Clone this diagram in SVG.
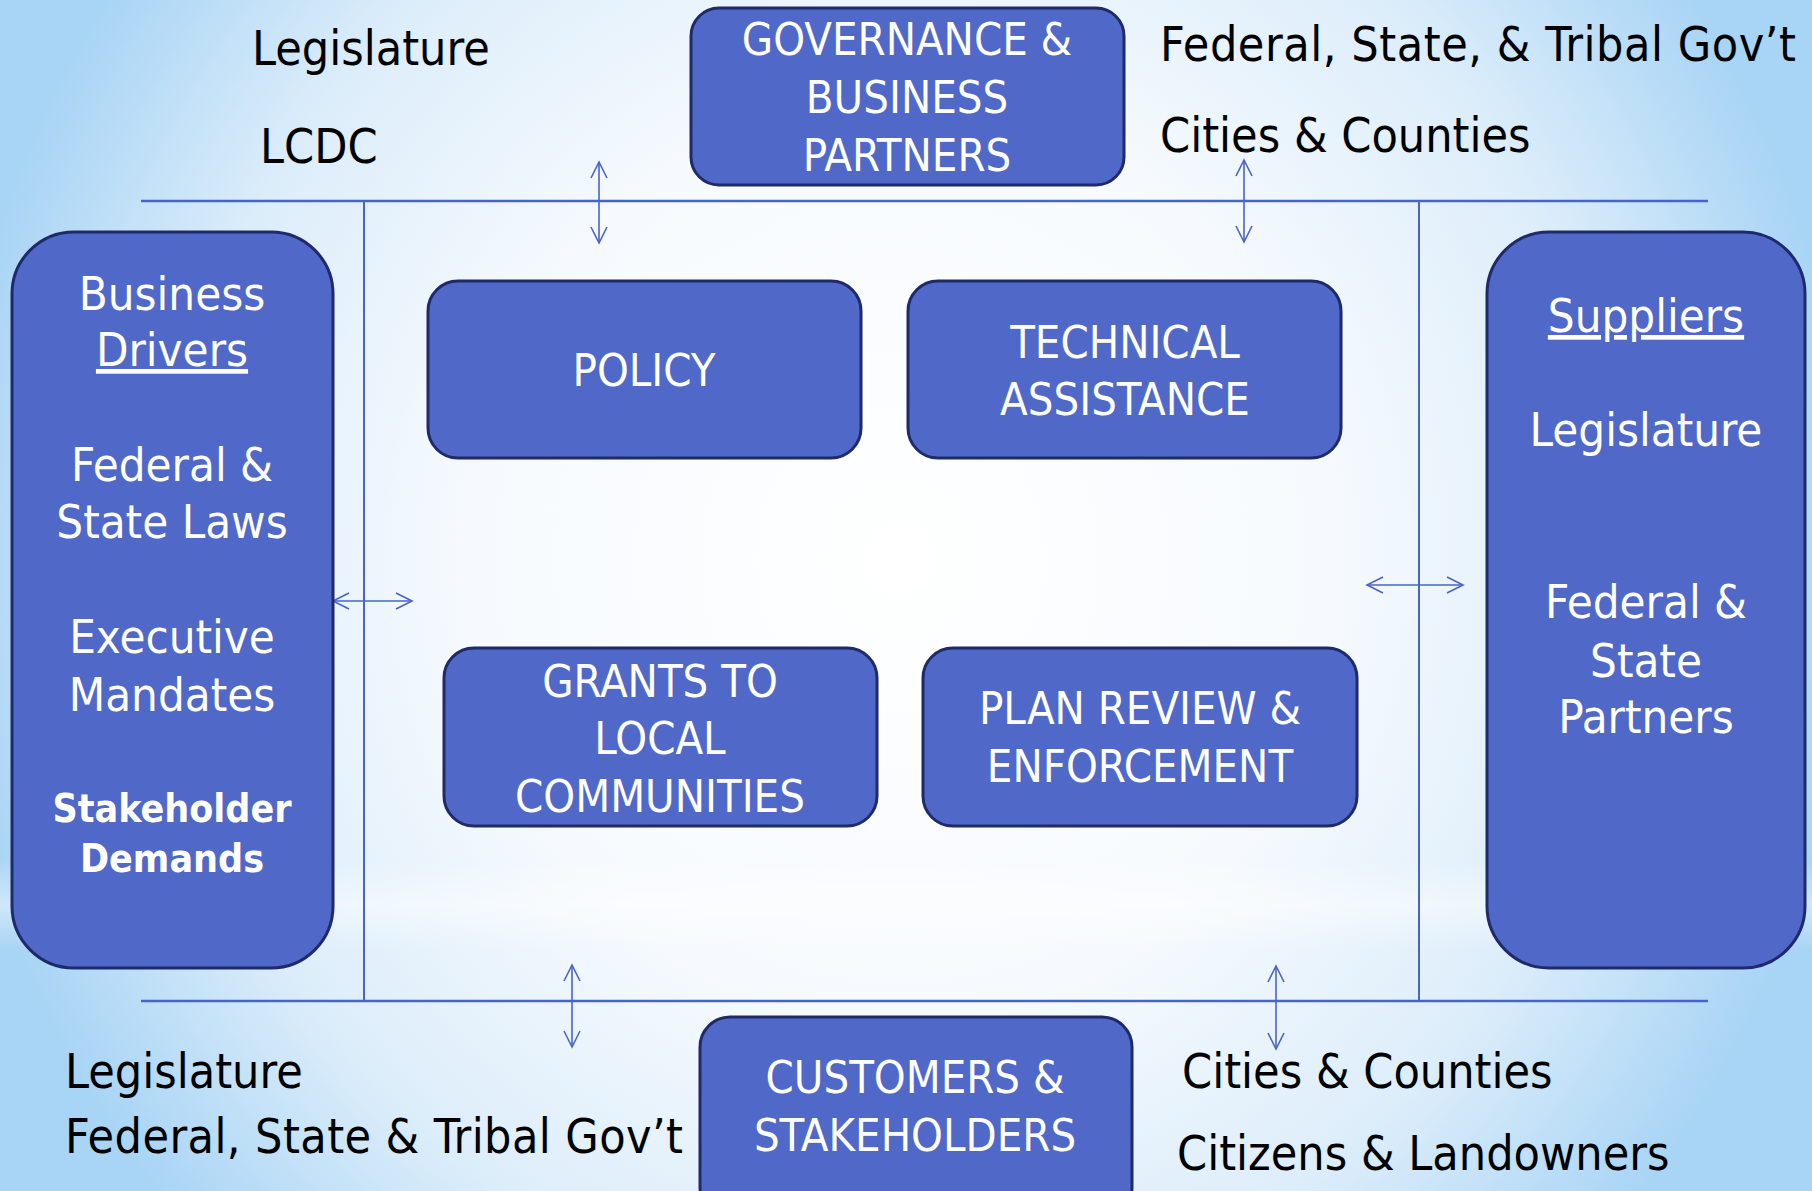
<svg xmlns="http://www.w3.org/2000/svg" width="1812" height="1191" viewBox="0 0 1812 1191">
<defs>
<radialGradient id="bg" cx="900" cy="560" r="960" gradientUnits="userSpaceOnUse" gradientTransform="translate(900 560) scale(1 1.05) translate(-900 -560)">
<stop offset="0" stop-color="#ffffff"/>
<stop offset="0.45" stop-color="#f6fafe"/>
<stop offset="0.75" stop-color="#dcedfa"/>
<stop offset="0.95" stop-color="#b2d9f6"/>
<stop offset="1" stop-color="#a8d4f5"/>
</radialGradient>
<linearGradient id="band" x1="0" y1="0" x2="0" y2="1">
<stop offset="0" stop-color="#ffffff" stop-opacity="0"/>
<stop offset="0.5" stop-color="#ffffff" stop-opacity="0.45"/>
<stop offset="1" stop-color="#ffffff" stop-opacity="0"/>
</linearGradient>
<marker id="ah" viewBox="-18 -10 20 20" refX="0" refY="0" markerWidth="20" markerHeight="20" markerUnits="userSpaceOnUse" orient="auto-start-reverse">
<path d="M-16,-8 L0,0 L-16,8" fill="none" stroke="#4a63c8" stroke-width="1.6"/>
</marker>
</defs>
<style>
.box{fill:#5068c8;stroke:#1f2a6b;stroke-width:3}
.lbl{font-family:"DejaVu Sans Condensed","DejaVu Sans",sans-serif;font-stretch:condensed;font-size:45px;fill:#ffffff;text-anchor:middle}
.side{font-family:"DejaVu Sans Condensed","DejaVu Sans",sans-serif;font-stretch:condensed;font-size:47px;fill:#ffffff;text-anchor:middle}
.sideb{font-family:"DejaVu Sans Condensed","DejaVu Sans",sans-serif;font-stretch:condensed;font-size:39px;font-weight:bold;fill:#ffffff;text-anchor:middle}
.blk{font-family:"DejaVu Sans Condensed","DejaVu Sans",sans-serif;font-stretch:condensed;font-size:48px;fill:#000000}
.ln{stroke:#4a63c8;fill:none}
.ar{stroke:#4a63c8;stroke-width:1.6;fill:none;marker-start:url(#ah);marker-end:url(#ah)}
</style>
<rect x="0" y="0" width="1812" height="1191" fill="url(#bg)"/>
<rect x="0" y="860" width="1812" height="90" fill="url(#band)"/>

<g id="connectors">
<line class="ln" x1="141" y1="201" x2="1708" y2="201" stroke-width="2.5"/>
<line class="ln" x1="141" y1="1001" x2="1708" y2="1001" stroke-width="2.5"/>
<line class="ln" x1="364" y1="201" x2="364" y2="1001" stroke-width="2"/>
<line class="ln" x1="1419" y1="201" x2="1419" y2="1001" stroke-width="2"/>
<line class="ar" x1="599" y1="162" x2="599" y2="243"/>
<line class="ar" x1="1244" y1="160" x2="1244" y2="242"/>
<line class="ar" x1="572" y1="965" x2="572" y2="1047"/>
<line class="ar" x1="1276" y1="966" x2="1276" y2="1049"/>
<line class="ar" x1="333" y1="601" x2="412" y2="601"/>
<line class="ar" x1="1367" y1="585" x2="1463" y2="585"/>
</g>

<g id="labels-top">
<text class="blk" x="252" y="65">Legislature</text>
<text class="blk" x="260" y="163">LCDC</text>
<text class="blk" x="1160" y="61" textLength="636" lengthAdjust="spacing">Federal, State, &amp; Tribal Gov’t</text>
<text class="blk" x="1160" y="152">Cities &amp; Counties</text>
</g>

<g id="labels-bottom">
<text class="blk" x="65" y="1088">Legislature</text>
<text class="blk" x="65" y="1153" textLength="618" lengthAdjust="spacing">Federal, State &amp; Tribal Gov’t</text>
<text class="blk" x="1182" y="1088">Cities &amp; Counties</text>
<text class="blk" x="1177" y="1170">Citizens &amp; Landowners</text>
</g>

<g id="governance">
<rect class="box" x="691" y="8" width="433" height="177" rx="28"/>
<text class="lbl" x="907" y="55">GOVERNANCE &amp;</text>
<text class="lbl" x="907" y="113">BUSINESS</text>
<text class="lbl" x="907" y="171">PARTNERS</text>
</g>

<g id="business-drivers">
<rect class="box" x="12" y="232" width="321" height="736" rx="62"/>
<text class="side" x="172" y="310">Business</text>
<text class="side" x="172" y="366" text-decoration="underline">Drivers</text>
<text class="side" x="172" y="481">Federal &amp;</text>
<text class="side" x="172" y="538">State Laws</text>
<text class="side" x="172" y="653">Executive</text>
<text class="side" x="172" y="711">Mandates</text>
<text class="sideb" x="172" y="822">Stakeholder</text>
<text class="sideb" x="172" y="872">Demands</text>
</g>

<g id="suppliers">
<rect class="box" x="1487" y="232" width="318" height="736" rx="62"/>
<text class="side" x="1646" y="332" text-decoration="underline">Suppliers</text>
<text class="side" x="1646" y="446">Legislature</text>
<text class="side" x="1646" y="618">Federal &amp;</text>
<text class="side" x="1646" y="677">State</text>
<text class="side" x="1646" y="733">Partners</text>
</g>

<g id="policy">
<rect class="box" x="428" y="281" width="433" height="177" rx="30"/>
<text class="lbl" x="644" y="386">POLICY</text>
</g>

<g id="technical-assistance">
<rect class="box" x="908" y="281" width="433" height="177" rx="30"/>
<text class="lbl" x="1125" y="358">TECHNICAL</text>
<text class="lbl" x="1125" y="415">ASSISTANCE</text>
</g>

<g id="grants">
<rect class="box" x="444" y="648" width="433" height="178" rx="30"/>
<text class="lbl" x="660" y="697">GRANTS TO</text>
<text class="lbl" x="660" y="754">LOCAL</text>
<text class="lbl" x="660" y="812">COMMUNITIES</text>
</g>

<g id="plan-review">
<rect class="box" x="923" y="648" width="434" height="178" rx="30"/>
<text class="lbl" x="1140" y="724">PLAN REVIEW &amp;</text>
<text class="lbl" x="1140" y="782">ENFORCEMENT</text>
</g>

<g id="customers">
<rect class="box" x="700" y="1017" width="432" height="200" rx="30"/>
<text class="lbl" x="915" y="1093">CUSTOMERS &amp;</text>
<text class="lbl" x="915" y="1151">STAKEHOLDERS</text>
</g>
</svg>
